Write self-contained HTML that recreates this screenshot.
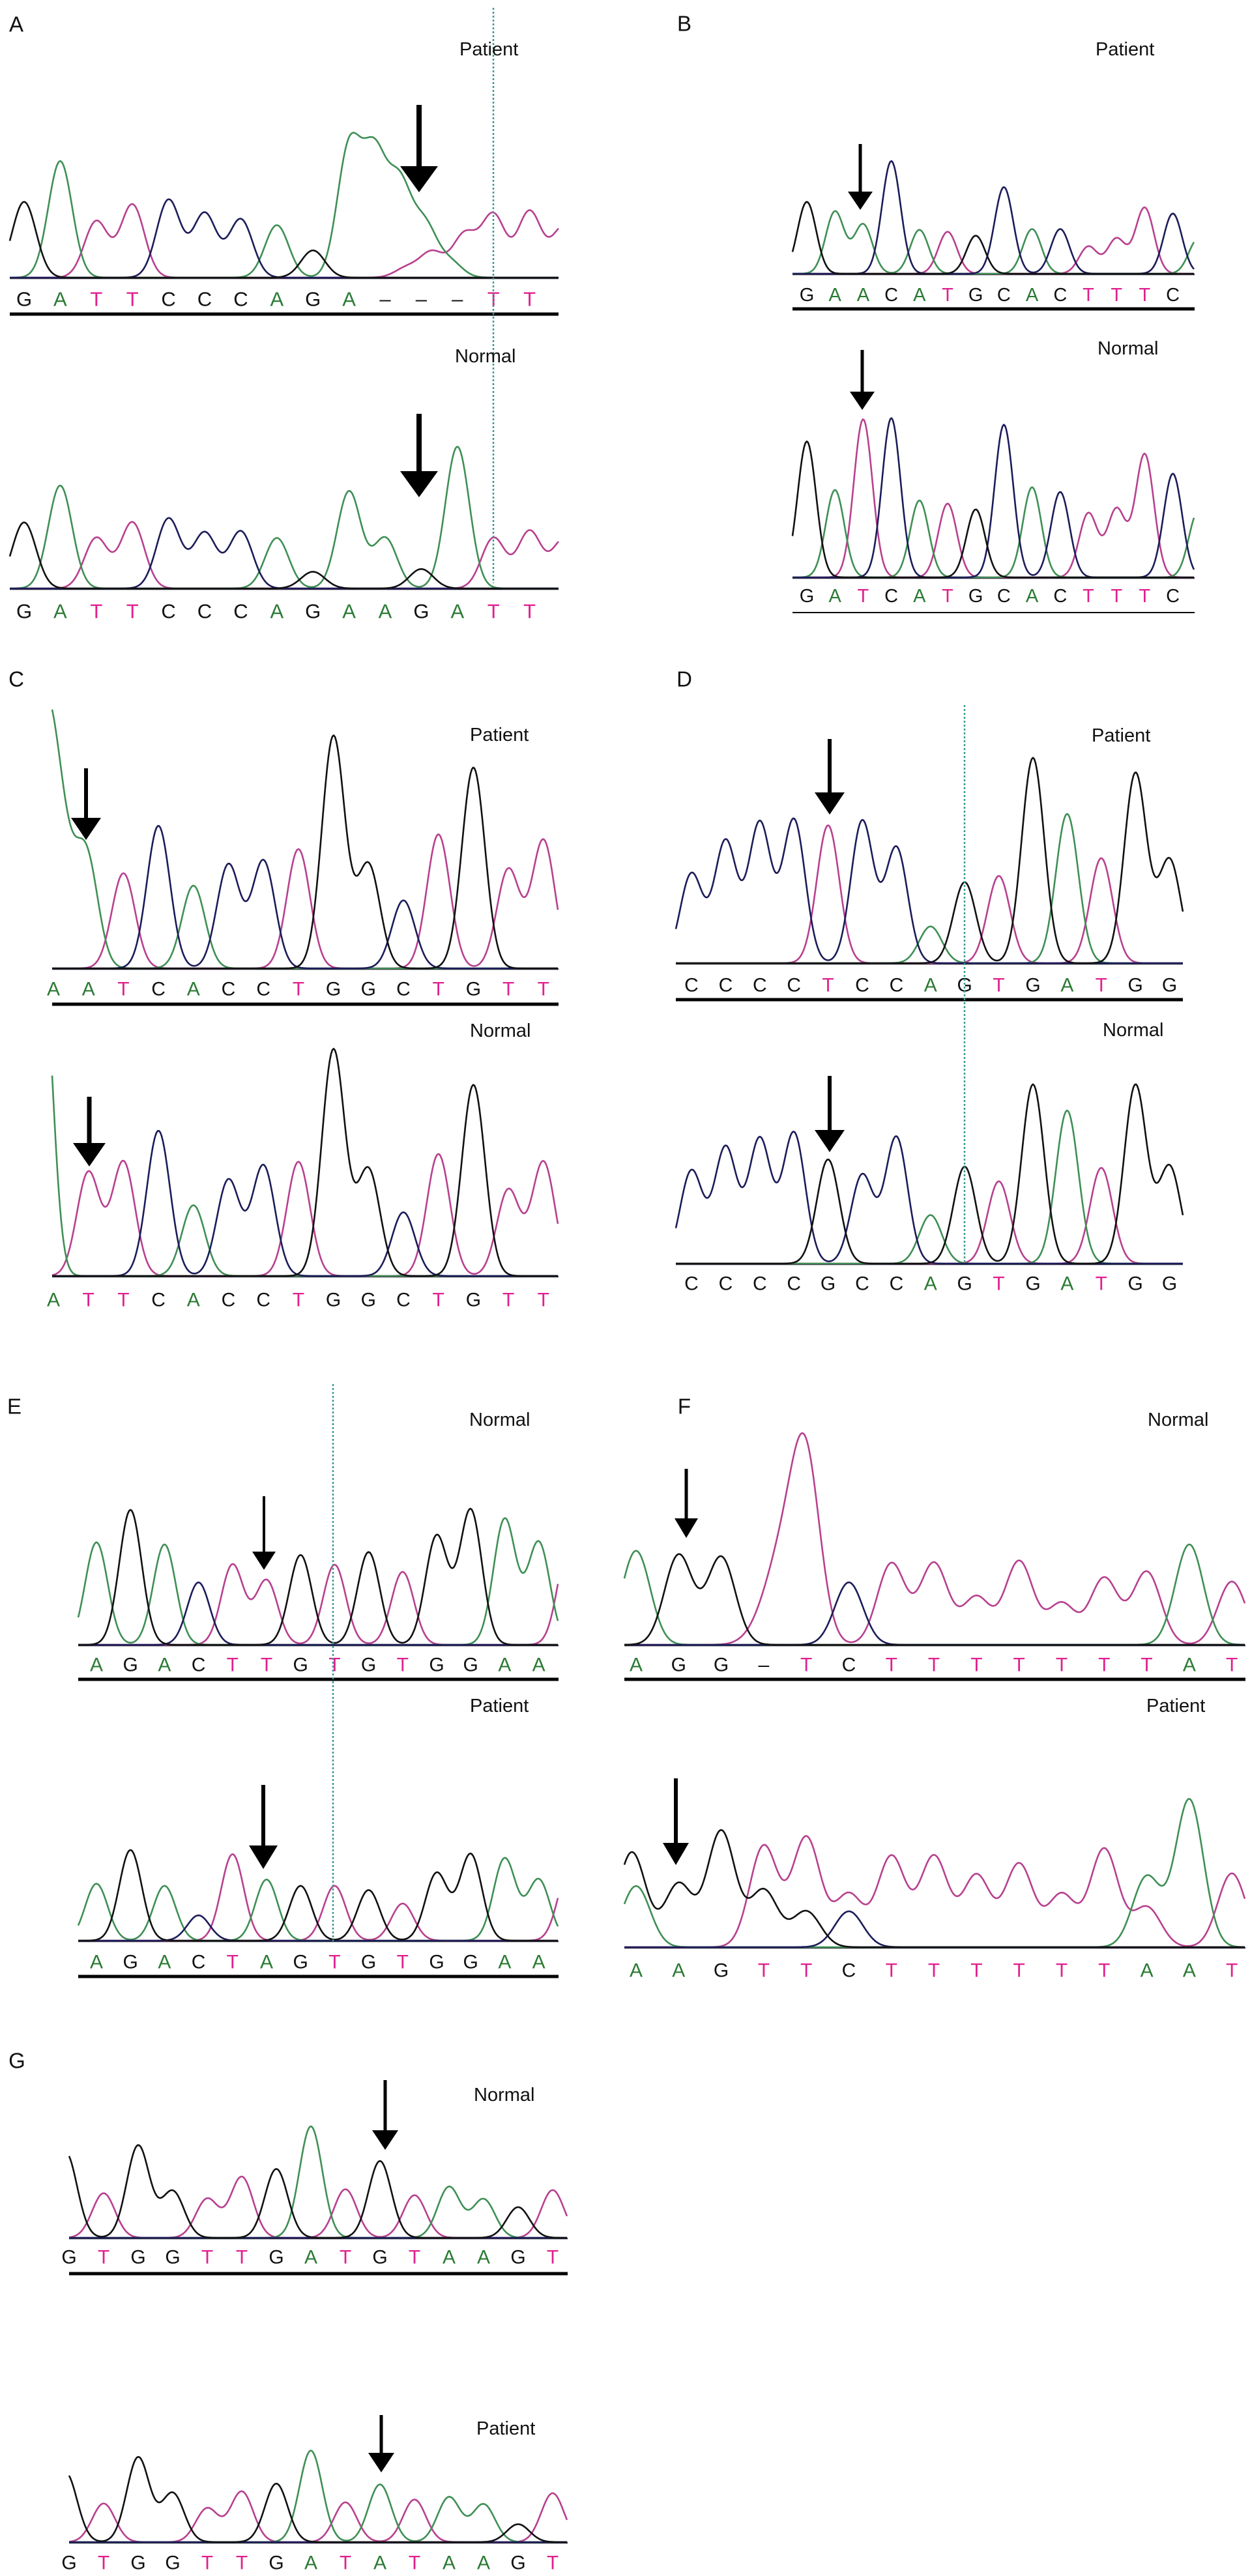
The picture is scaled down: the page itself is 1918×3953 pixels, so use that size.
<!DOCTYPE html>
<html><head><meta charset="utf-8">
<style>
html,body{margin:0;padding:0;background:#fff;}
svg{display:block;}
text{font-family:"Liberation Sans",Arial,sans-serif;}
</style></head>
<body>
<svg id="fig" width="1918" height="3953" viewBox="0 0 1918 3953" xmlns="http://www.w3.org/2000/svg">
<rect width="1918" height="3953" fill="#fff"/>
<g id="layer"></g>
</svg>
<script>
// ---------- DATA (signal intensities) ----------
const A_pat_seq = ['G','A','T','T','C','C','C','A','G','A','–','–','–','T','T'];
const A_pat_ch  = ['G','A','T','T','C','C','C','A','G','A','A','A','A','A','T','T','T','T','T','T'];
const A_pat_pos = [0,1,2,3,4,5,6,7,8,9,9.7,10.4,11.1,11.8,10.6,11.3,12.2,13,14,14.95];
const A_pat_sig = [195,300,145,188,200,165,150,135,70,330,300,230,130,40,25,65,110,160,170,130];
const A_nor_seq = ['G','A','T','T','C','C','C','A','G','A','A','G','A','T','T'];
const A_nor_ch  = ['G','A','T','T','C','C','C','A','G','A','A','G','A','T','T','T'];
const A_nor_pos = [0,1,2,3,4,5,6,7,8,9,10,11,12,13,14,14.95];
const A_nor_sig = [170,265,130,170,180,143,147,130,43,250,130,50,365,130,147,125];
const B_pat_seq = ['G','A','A','C','A','T','G','C','A','C','T','T','T','C'];
const B_pat_ch  = ['G','A','A','C','A','T','G','C','A','C','T','T','T','C','A'];
const B_pat_pos = [0,1,2,3,4,5,6,7,8,9,10,11,12,13,13.9];
const B_pat_sig = [185,160,127,290,113,108,98,223,115,115,70,90,170,155,90];
const B_nor_seq = ['G','A','T','C','A','T','G','C','A','C','T','T','T','C'];
const B_nor_ch  = ['G','A','T','C','A','T','G','C','A','C','T','T','T','C','A'];
const B_nor_pos = [0,1,2,3,4,5,6,7,8,9,10,11,12,13,13.9];
const B_nor_sig = [350,225,407,410,198,190,175,393,232,220,165,175,317,267,170];
const C_pat_seq = ['A','A','T','C','A','C','C','T','G','G','C','T','G','T','T'];
const C_pat_ch  = ['A','A','T','C','A','C','C','T','G','G','C','T','G','T','T'];
const C_pat_pos = [-0.2,0.95,2,3,4,5,6,7,8,9,10,11,12,13,14];
const C_pat_sig = [700,270,245,367,213,267,277,307,597,267,175,345,517,255,330];
const C_pat_wid = [1.5,1,1,1,1,1,1,1,1,1,1,1,1,1,1];
const C_nor_seq = ['A','T','T','C','A','C','C','T','G','G','C','T','G','T','T'];
const C_nor_ch  = ['A','T','T','C','A','C','C','T','G','G','C','T','G','T','T'];
const C_nor_pos = [-0.3,1,2,3,4,5,6,7,8,9,10,11,12,13,14];
const C_nor_sig = [800,267,294,374,182,247,284,294,582,274,164,314,492,222,294];
const C_nor_wid = [0.85,1,1,1,1,1,1,1,1,1,1,1,1,1,1];
const D_pat_seq = ['C','C','C','C','T','C','C','A','G','T','G','A','T','G','G'];
const D_pat_ch  = D_pat_seq.slice();
const D_pat_pos = [0,1,2,3,4,5,6,7,8,9,10,11,12,13,14];
const D_pat_sig = [212,289,332,340,327,337,274,87,192,207,487,354,249,450,245];
const D_nor_seq = ['C','C','C','C','G','C','C','A','G','T','G','A','T','G','G'];
const D_nor_ch  = D_nor_seq.slice();
const D_nor_pos = [0,1,2,3,4,5,6,7,8,9,10,11,12,13,14];
const D_nor_sig = [220,275,295,310,247,210,300,115,230,195,425,363,227,423,230];
const E_nor_seq = ['A','G','A','C','T','T','G','T','G','T','G','G','A','A'];
const E_nor_ch  = ['A','G','A','C','T','T','G','T','G','T','G','G','A','A','T'];
const E_nor_pos = [0,1,2,3,4,5,6,7,8,9,10,11,12,13,13.9];
const E_nor_sig = [243,320,238,148,190,153,213,190,220,173,258,320,298,243,243];
const E_pat_seq = ['A','G','A','C','T','A','G','T','G','T','G','G','A','A'];
const E_pat_ch  = ['A','G','A','C','T','A','G','T','G','T','G','G','A','A','T'];
const E_pat_pos = [0,1,2,3,4,5,6,7,8,9,10,11,12,13,13.9];
const E_pat_sig = [135,215,130,60,205,145,130,130,120,88,160,205,195,145,170];
const F_nor_seq = ['A','G','G','–','T','C','T','T','T','T','T','T','T','A','T'];
const F_nor_ch  = ['A','G','G','T','T','C','T','T','T','T','T','T','T','A','T'];
const F_nor_pos = [0,1,2,3.5,4,5,6,7,8,9,10,11,12,13,14];
const F_nor_sig = [223,213,208,230,360,148,193,193,113,198,98,158,173,238,150];
const F_nor_wid = [1,1,1,1.4,1,1,1,1,1,1,1,1,1,1,1];
const F_pat_seq = ['A','A','G','T','T','C','T','T','T','T','T','T','A','A','T'];
const F_pat_ch  = ['G','A','G','G','T','T','G','G','C','T','T','T','T','T','T','T','A','T','A','T'];
const F_pat_pos = [-0.1,0,1,2,3,4,3,4,5,5,6,7,8,9,10,11,12,12,13,14];
const F_pat_sig = [225,145,150,275,240,260,135,85,85,125,215,215,170,197,125,233,167,95,350,175];
const G_nor_seq = ['G','T','G','G','T','T','G','A','T','G','T','A','A','G','T'];
const G_nor_ch  = G_nor_seq.slice();
const G_nor_pos = [-0.1,1,2,3,4,5,6,7,8,9,10,11,12,13,14];
const G_nor_sig = [215,112,232,117,98,153,173,280,122,193,107,128,97,77,120];
const G_pat_seq = ['G','T','G','G','T','T','G','A','T','A','T','A','A','G','T'];
const G_pat_ch  = G_pat_seq.slice();
const G_pat_pos = [-0.1,1,2,3,4,5,6,7,8,9,10,11,12,13,14];
const G_pat_sig = [175,97,213,123,85,127,147,230,100,145,107,113,95,45,123];

// ---------- LAYOUT ----------
const NS = 'http://www.w3.org/2000/svg';
const layer = document.getElementById('layer');
const TRACE_COL = {A:'#3f8f55', T:'#b8408f', C:'#1c1c5a', G:'#111111'};
const LABEL_COL = {A:'#2b7a34', T:'#e0208f', C:'#111', G:'#111', '–':'#111'};

function mk(tag, attrs){ const e=document.createElementNS(NS,tag); for(const k in attrs) e.setAttribute(k,attrs[k]); return e; }

function drawTrace(name, g, seq, ch, pos, sig, wid){
  const group = mk('g',{});
  
  
  layer.appendChild(group);
  const xOf = p => g.fx + p*g.sp;
  const yOf = s => g.base - s*g.k;
  const sigma = 0.33*g.sp;
  const bl = mk('line',{x1:g.x0,x2:g.x1,y1:g.base+1,y2:g.base+1,stroke:'#2a2a3a','stroke-width':2.5});
  
  
  group.appendChild(bl);
  ['T','A','C','G'].forEach(c=>{
    let d='';
    for(let x=g.x0; x<=g.x1; x+=2){
      let s=0;
      for(let i=0;i<ch.length;i++){
        if(ch[i]!==c) continue;
        const w = wid ? wid[i] : 1;
        const dx = x - xOf(pos[i]);
        const sg = sigma*w;
        s += sig[i]*Math.exp(-0.5*dx*dx/(sg*sg));
      }
      d += (d?'L':'M') + x.toFixed(1) + ' ' + yOf(s).toFixed(1);
    }
    const p = mk('path',{d:d,fill:'none',stroke:TRACE_COL[c],'stroke-width':2.6,'stroke-linejoin':'round'});
    
    
    group.appendChild(p);
  });
  seq.forEach((b,i)=>{
    const t = mk('text',{x:xOf(i),y:g.ly,'text-anchor':'middle','dominant-baseline':'central','font-size':g.fs,fill:LABEL_COL[b]||'#111'});
    t.textContent = b;
    
    
    group.appendChild(t);
  });
  if(g.line){
    const ln = mk('line',{x1:g.x0,x2:g.x1,y1:g.line,y2:g.line,stroke:'#000','stroke-width':g.lw});
    
    
    group.appendChild(ln);
  }
}

drawTrace('a-patient',{x0:15,x1:857,base:426,fx:37,sp:55.4,ly:459,line:482,lw:5,k:1/1.677,fs:31},A_pat_seq,A_pat_ch,A_pat_pos,A_pat_sig);
drawTrace('a-normal',{x0:15,x1:857,base:903,fx:37,sp:55.4,ly:938,line:0,lw:0,k:1/1.677,fs:31},A_nor_seq,A_nor_ch,A_nor_pos,A_nor_sig);
drawTrace('b-patient',{x0:1216,x1:1833,base:420,fx:1238,sp:43.2,ly:453,line:474,lw:5,k:1/1.677,fs:29},B_pat_seq,B_pat_ch,B_pat_pos,B_pat_sig);
drawTrace('b-normal',{x0:1216,x1:1833,base:886,fx:1238,sp:43.2,ly:915,line:940,lw:2,k:1/1.677,fs:29},B_nor_seq,B_nor_ch,B_nor_pos,B_nor_sig);
drawTrace('c-patient',{x0:80,x1:857,base:1486,fx:82,sp:53.7,ly:1518,line:1541,lw:5,k:1/1.677,fs:30},C_pat_seq,C_pat_ch,C_pat_pos,C_pat_sig,C_pat_wid);
drawTrace('c-normal',{x0:80,x1:857,base:1958,fx:82,sp:53.7,ly:1995,line:0,lw:0,k:1/1.677,fs:30},C_nor_seq,C_nor_ch,C_nor_pos,C_nor_sig,C_nor_wid);
drawTrace('d-patient',{x0:1037,x1:1815,base:1478,fx:1061,sp:52.4,ly:1512,line:1534,lw:5,k:1/1.545,fs:30},D_pat_seq,D_pat_ch,D_pat_pos,D_pat_sig);
drawTrace('d-normal',{x0:1037,x1:1815,base:1939,fx:1061,sp:52.4,ly:1970,line:0,lw:0,k:1/1.545,fs:30},D_nor_seq,D_nor_ch,D_nor_pos,D_nor_sig);
drawTrace('e-normal',{x0:120,x1:857,base:2524,fx:148,sp:52.2,ly:2555,line:2577,lw:5,k:1/1.545,fs:30},E_nor_seq,E_nor_ch,E_nor_pos,E_nor_sig);
drawTrace('e-patient',{x0:120,x1:857,base:2978,fx:148,sp:52.2,ly:3011,line:3033,lw:5,k:1/1.545,fs:30},E_pat_seq,E_pat_ch,E_pat_pos,E_pat_sig);
drawTrace('f-normal',{x0:958,x1:1911,base:2524,fx:976,sp:65.3,ly:2555,line:2577,lw:5,k:1/1.545,fs:30},F_nor_seq,F_nor_ch,F_nor_pos,F_nor_sig,F_nor_wid);
drawTrace('f-patient',{x0:958,x1:1911,base:2988,fx:976,sp:65.3,ly:3024,line:0,lw:0,k:1/1.545,fs:30},F_pat_seq,F_pat_ch,F_pat_pos,F_pat_sig);
drawTrace('g-normal',{x0:106,x1:871,base:3434,fx:106,sp:53,ly:3464,line:3489,lw:5,k:1/1.637,fs:30},G_nor_seq,G_nor_ch,G_nor_pos,G_nor_sig);
drawTrace('g-patient',{x0:106,x1:871,base:3901,fx:106,sp:53,ly:3933,line:0,lw:0,k:1/1.637,fs:30},G_pat_seq,G_pat_ch,G_pat_pos,G_pat_sig);

[[757,12,895],[1480,1082,1936],[511,2124,2979]].forEach(v=>{
  const l = mk('line',{x1:v[0],x2:v[0],y1:v[1],y2:v[2],stroke:'#3a9a90','stroke-width':2.5,'stroke-dasharray':'3 3'});
  
  
  layer.appendChild(l);
});

[[643,161,295,8,58,40],[643,635,763,8,58,40],
 [1320,221,322,5,38,28],[1323,537,629,5,38,28],
 [132,1179,1289,6,46,34],[137,1683,1790,7,50,36],
 [1273,1134,1250,6,46,34],[1273,1651,1768,6,46,34],
 [405,2296,2409,4,36,28],[404,2739,2868,6,44,36],
 [1053,2254,2360,5,36,30],[1037,2729,2862,6,40,34],
 [591,3192,3299,5,40,30],[585,3706,3794,5,40,30]].forEach(a=>{
  const [x,t,tip,sw,hw,hh]=a;
  const d=`M${x-sw/2} ${t}L${x+sw/2} ${t}L${x+sw/2} ${tip-hh}L${x+hw/2} ${tip-hh}L${x} ${tip}L${x-hw/2} ${tip-hh}L${x-sw/2} ${tip-hh}Z`;
  const p = mk('path',{d:d,fill:'#000'});
  
  
  layer.appendChild(p);
});

[['A',25,37],['B',1050,36],['C',25,1042],['D',1050,1042],['E',22,2158],['F',1050,2158],['G',26,3162]].forEach(L=>{
  const t = mk('text',{x:L[1],y:L[2],'text-anchor':'middle','dominant-baseline':'central','font-size':33,fill:'#111'});
  t.textContent = L[0];
  
  
  layer.appendChild(t);
});

[['Patient',705,76],['Normal',698,547],['Patient',1681,76],['Normal',1684,535],
 ['Patient',721,1128],['Normal',721,1582],['Patient',1675,1129],['Normal',1692,1581],
 ['Normal',720,2179],['Patient',721,2618],['Normal',1761,2179],['Patient',1759,2618],
 ['Normal',727,3215],['Patient',731,3727]].forEach(L=>{
  const t = mk('text',{x:L[1],y:L[2],'dominant-baseline':'central','font-size':29,fill:'#111'});
  t.textContent = L[0];
  
  
  layer.appendChild(t);
});
</script>
</body></html>
